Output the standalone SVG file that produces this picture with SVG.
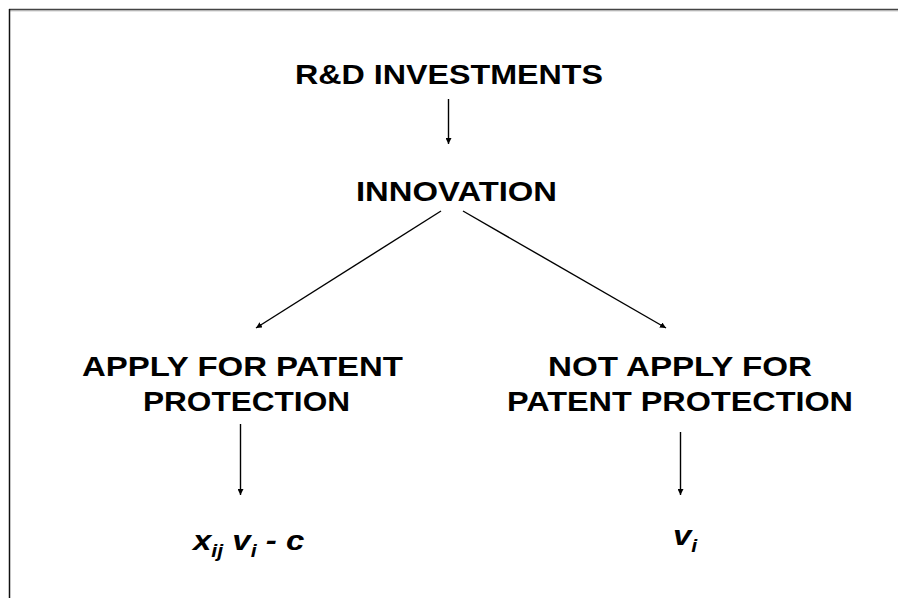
<svg xmlns="http://www.w3.org/2000/svg" width="898" height="598" viewBox="0 0 898 598">
<defs>
<style>
.t{font-family:"Liberation Sans",Arial,sans-serif;font-weight:bold;font-size:28px;fill:#000}
.f{font-family:"Liberation Sans",Arial,sans-serif;font-weight:bold;font-style:italic;font-size:28px;fill:#000}
.s{font-size:18px}
.c{stroke:#000;stroke-width:1.4;fill:none;marker-end:url(#ah)}
</style>
<marker id="ah" viewBox="0 0 10 10" refX="10" refY="5" markerWidth="6" markerHeight="6" markerUnits="userSpaceOnUse" orient="auto">
<path d="M0,0 L10,5 L0,10 z" fill="#000"/>
</marker>
</defs>
<rect width="898" height="598" fill="#fff"/>
<g id="frame">
<line x1="9" y1="9.5" x2="898" y2="9.5" stroke="#444" stroke-width="1.5"/>
<line x1="9" y1="10.8" x2="898" y2="10.8" stroke="#aaa" stroke-width="1"/>
<line x1="9.5" y1="9" x2="9.5" y2="598" stroke="#111" stroke-width="1.5"/>
</g>
<g id="rd"><text class="t" x="295" y="84" textLength="308" lengthAdjust="spacingAndGlyphs">R&amp;D INVESTMENTS</text></g>
<g id="innovation"><text class="t" x="356" y="201" textLength="201" lengthAdjust="spacingAndGlyphs">INNOVATION</text></g>
<g id="apply">
<text class="t" x="82" y="376" textLength="321" lengthAdjust="spacingAndGlyphs">APPLY FOR PATENT</text>
<text class="t" x="143" y="411" textLength="207" lengthAdjust="spacingAndGlyphs">PROTECTION</text>
</g>
<g id="notapply">
<text class="t" x="548" y="376" textLength="264" lengthAdjust="spacingAndGlyphs">NOT APPLY FOR</text>
<text class="t" x="507" y="411" textLength="346" lengthAdjust="spacingAndGlyphs">PATENT PROTECTION</text>
</g>
<g id="payoff-apply" transform="translate(193,550) scale(1.18,1)"><text class="f" x="0" y="0">x<tspan class="s" dy="7">ij</tspan><tspan dy="-7"> v</tspan><tspan class="s" dy="7">i</tspan><tspan dy="-7"> - c</tspan></text></g>
<g id="payoff-not" transform="translate(673,545) scale(1.18,1)"><text class="f" x="0" y="0">v<tspan class="s" dy="7">i</tspan></text></g>
<g id="connectors">
<line class="c" x1="448.5" y1="99" x2="448.5" y2="144"/>
<line class="c" x1="441" y1="211" x2="256" y2="328"/>
<line class="c" x1="463" y1="211" x2="666" y2="328"/>
<line class="c" x1="240.5" y1="424" x2="240.5" y2="495"/>
<line class="c" x1="680.5" y1="432" x2="680.5" y2="495"/>
</g>
</svg>
